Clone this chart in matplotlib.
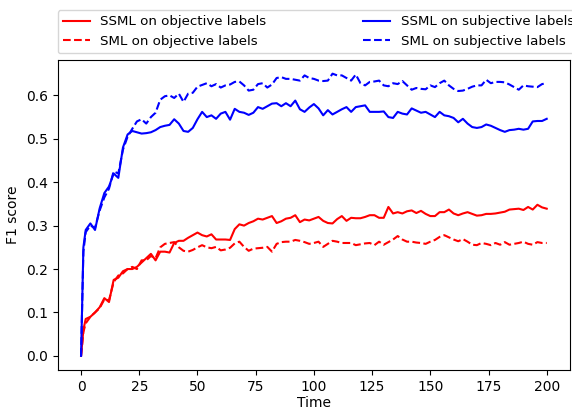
import numpy as np
import matplotlib
matplotlib.use('Agg')
import matplotlib.pyplot as plt

# epochs (first step kept at 1 so the initial jump is steep)
time = np.r_[0, 1, np.arange(2, 201, 2)]

# SSML, objective labels
ssml_obj = [0.0, 0.06, 0.085, 0.09, 0.1, 0.112, 0.133, 0.124, 0.175, 0.18,
            0.195, 0.2, 0.2, 0.205, 0.215, 0.225, 0.235, 0.22, 0.24, 0.24,
            0.238, 0.26, 0.265, 0.265, 0.272, 0.278, 0.284, 0.278, 0.275, 0.28,
            0.268, 0.268, 0.268, 0.267, 0.292, 0.303, 0.3, 0.306, 0.31, 0.316,
            0.314, 0.318, 0.322, 0.306, 0.31, 0.316, 0.318, 0.324, 0.308, 0.314,
            0.312, 0.316, 0.32, 0.311, 0.306, 0.305, 0.315, 0.322, 0.311, 0.318,
            0.317, 0.317, 0.32, 0.324, 0.324, 0.318, 0.318, 0.343, 0.328, 0.331,
            0.328, 0.333, 0.335, 0.329, 0.334, 0.327, 0.322, 0.322, 0.331, 0.331,
            0.337, 0.328, 0.324, 0.328, 0.331, 0.327, 0.323, 0.324, 0.327, 0.327,
            0.328, 0.33, 0.332, 0.337, 0.338, 0.339, 0.336, 0.343, 0.337, 0.348,
            0.342, 0.339]

# SML, objective labels
sml_obj = [0.0, 0.055, 0.075, 0.09, 0.1, 0.11, 0.13, 0.128, 0.17, 0.185,
           0.19, 0.2, 0.205, 0.2, 0.22, 0.22, 0.23, 0.225, 0.25, 0.258,
           0.26, 0.262, 0.25, 0.242, 0.24, 0.244, 0.25, 0.255, 0.25, 0.248,
           0.251, 0.243, 0.245, 0.249, 0.259, 0.263, 0.251, 0.242, 0.247, 0.248,
           0.249, 0.251, 0.24, 0.258, 0.262, 0.263, 0.263, 0.267, 0.265, 0.262,
           0.258, 0.26, 0.263, 0.251, 0.258, 0.265, 0.263, 0.26, 0.26, 0.26,
           0.255, 0.257, 0.259, 0.26, 0.255, 0.263, 0.256, 0.262, 0.268, 0.276,
           0.268, 0.263, 0.263, 0.261, 0.26, 0.258, 0.263, 0.267, 0.274, 0.278,
           0.273, 0.268, 0.264, 0.269, 0.263, 0.256, 0.255, 0.26, 0.258, 0.255,
           0.26, 0.256, 0.262, 0.256, 0.258, 0.26, 0.263, 0.258, 0.256, 0.262,
           0.26, 0.26]

# SSML, subjective labels
ssml_subj = [0.0, 0.25, 0.29, 0.305, 0.29, 0.34, 0.375, 0.39, 0.42, 0.41,
             0.48, 0.51, 0.518, 0.515, 0.512, 0.513, 0.515, 0.52, 0.527, 0.53,
             0.532, 0.545, 0.535, 0.518, 0.516, 0.525, 0.545, 0.562, 0.55, 0.554,
             0.546, 0.558, 0.562, 0.544, 0.569, 0.562, 0.56, 0.555, 0.56, 0.573,
             0.569, 0.575, 0.581, 0.582, 0.575, 0.582, 0.575, 0.588, 0.568, 0.562,
             0.572, 0.58, 0.57, 0.554, 0.566, 0.556, 0.562, 0.568, 0.573, 0.562,
             0.573, 0.575, 0.577, 0.562, 0.562, 0.562, 0.563, 0.55, 0.548, 0.562,
             0.558, 0.556, 0.57, 0.565, 0.56, 0.562, 0.556, 0.55, 0.562, 0.554,
             0.552, 0.548, 0.538, 0.546, 0.535, 0.527, 0.525, 0.527, 0.533, 0.53,
             0.525, 0.52, 0.516, 0.52, 0.521, 0.523, 0.521, 0.523, 0.54, 0.541,
             0.541, 0.546]

# SML, subjective labels
sml_subj = [0.0, 0.24, 0.285, 0.3, 0.295, 0.335, 0.365, 0.385, 0.425, 0.42,
            0.475, 0.505, 0.523, 0.54, 0.545, 0.535, 0.55, 0.56, 0.59, 0.598,
            0.6, 0.594, 0.604, 0.585, 0.604, 0.606, 0.62, 0.624, 0.628, 0.621,
            0.626, 0.618, 0.623, 0.625, 0.631, 0.632, 0.623, 0.611, 0.613, 0.626,
            0.628, 0.618, 0.625, 0.64, 0.642, 0.638, 0.638, 0.636, 0.634, 0.646,
            0.64, 0.638, 0.634, 0.633, 0.634, 0.65, 0.646, 0.646, 0.64, 0.634,
            0.648, 0.628, 0.623, 0.631, 0.632, 0.634, 0.623, 0.621, 0.628, 0.626,
            0.633, 0.623, 0.613, 0.617, 0.615, 0.614, 0.623, 0.619, 0.628, 0.634,
            0.623, 0.615, 0.61, 0.611, 0.615, 0.62, 0.623, 0.623, 0.636, 0.628,
            0.631, 0.631, 0.63, 0.625, 0.619, 0.613, 0.623, 0.621, 0.62, 0.619,
            0.626, 0.628]

plt.rcParams['font.size'] = 10
lw = 1.5

fig = plt.figure(figsize=(5.72, 4.09), dpi=100)
ax = fig.add_axes([0.101, 0.0954, 0.8955, 0.759])

ax.plot(time, ssml_obj, 'r-', lw=lw, label='SSML on objective labels')
ax.plot(time, sml_obj, 'r--', lw=lw, label='SML on objective labels')
ax.plot(time, ssml_subj, 'b-', lw=lw, label='SSML on subjective labels')
ax.plot(time, sml_subj, 'b--', lw=lw, label='SML on subjective labels')

ax.set_xlabel('Time', labelpad=2)
ax.set_ylabel('F1 score')
ax.set_xticks(np.arange(0, 201, 25))

# legend row above the axes, a bit wider than the axes themselves
ax.legend(bbox_to_anchor=(0., 1.02, 1.018, .102), loc='lower left', ncol=2,
          mode='expand', borderaxespad=0., fontsize=9.6)

fig.savefig('out.png', dpi=100)
